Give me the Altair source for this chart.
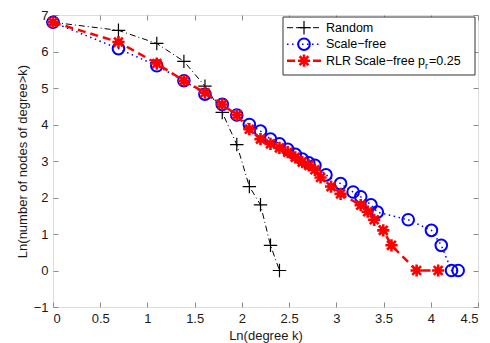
import altair as alt
import pandas as pd

# ---------------- data ----------------
rand_x = [0.0, 0.693, 1.099, 1.386, 1.609, 1.792, 1.946, 2.079, 2.197, 2.303, 2.398]
rand_y = [6.8, 6.58, 6.22, 5.73, 5.05, 4.33, 3.45, 2.30, 1.80, 0.69, 0.0]

sf_x = [0.0, 0.693, 1.099, 1.386, 1.609, 1.792, 1.946, 2.079, 2.197, 2.303, 2.398,
        2.485, 2.565, 2.639, 2.708, 2.773, 2.890, 3.045, 3.178, 3.258, 3.367, 3.434,
        3.761, 4.007, 4.111, 4.220, 4.290]
sf_y = [6.8, 6.08, 5.61, 5.20, 4.83, 4.55, 4.26, 4.00, 3.82, 3.60, 3.47,
        3.32, 3.18, 3.05, 2.95, 2.88, 2.62, 2.38, 2.15, 2.02, 1.80, 1.60,
        1.39, 1.10, 0.69, 0.0, 0.0]

rlr_x = [0.0, 0.693, 1.099, 1.386, 1.609, 1.792, 1.946, 2.079, 2.197, 2.303, 2.398,
         2.485, 2.565, 2.639, 2.708, 2.773, 2.833, 2.944, 3.045, 3.258, 3.332, 3.401,
         3.497, 3.584, 3.850, 4.078]
rlr_y = [6.8, 6.26, 5.67, 5.20, 4.87, 4.55, 4.26, 3.87, 3.60, 3.47, 3.36,
         3.24, 3.10, 2.97, 2.88, 2.76, 2.55, 2.30, 2.10, 1.79, 1.61, 1.39,
         1.10, 0.69, 0.0, 0.0]

x_ticks = [0, 0.5, 1, 1.5, 2, 2.5, 3, 3.5, 4, 4.5]
y_ticks = [-1, 0, 1, 2, 3, 4, 5, 6, 7]

legend_labels = ["Random", "Scale\u2212free", "RLR Scale\u2212free p"]

# ---------------- styling ----------------
W, H = 425, 292
FONT = "Liberation Sans"
AX = "#8c8c8c"
BLUE = "#0000ff"
RED = "#ff0000"
PLUS = "M-1,0L1,0M0,-1L0,1"
STAR = "M-1,0L1,0M0,-1L0,1M-0.72,-0.72L0.72,0.72M-0.72,0.72L0.72,-0.72"

xs = alt.Scale(domain=[0, 4.5], nice=False, zero=False)
ys = alt.Scale(domain=[-1, 7], nice=False, zero=False)

rand_df = pd.DataFrame({"x": rand_x, "y": rand_y})
sf_df = pd.DataFrame({"x": sf_x, "y": sf_y})
rlr_df = pd.DataFrame({"x": rlr_x, "y": rlr_y})
one = pd.DataFrame({"a": [0]})


def enc(chart, xaxis=None, yaxis=None):
    return chart.encode(
        x=alt.X("x:Q", scale=xs, axis=xaxis),
        y=alt.Y("y:Q", scale=ys, axis=yaxis),
    )


# axes: main labelled axes + inward ticks on all four sides
main_x = alt.Axis(orient="bottom", values=x_ticks, format="~g", ticks=False, domain=False,
                  grid=False, labelFont=FONT, labelFontSize=13, labelColor="#1a1a1a",
                  labelPadding=5, title="Ln(degree k)", titleFont=FONT, titleFontSize=13,
                  titleFontWeight="normal", titleColor="#1a1a1a", titlePadding=4)
main_y = alt.Axis(orient="left", values=y_ticks, format="~g", ticks=False, domain=False,
                  grid=False, labelFont=FONT, labelFontSize=13, labelColor="#1a1a1a",
                  labelPadding=5, title="Ln(number of nodes of degree>k)", titleFont=FONT,
                  titleFontSize=13, titleFontWeight="normal", titleColor="#1a1a1a",
                  titlePadding=4)

tick_common = dict(labels=False, domain=False, grid=False, tickSize=5, tickColor=AX,
                   title=None, tickWidth=1)
tick_bottom = alt.Axis(orient="top", offset=-H, values=x_ticks, **tick_common)
tick_top = alt.Axis(orient="bottom", offset=-H, values=x_ticks, **tick_common)
tick_left = alt.Axis(orient="right", offset=-W, values=y_ticks, **tick_common)
tick_right = alt.Axis(orient="left", offset=-W, values=y_ticks, **tick_common)

axes_main = enc(alt.Chart(rand_df).mark_point(opacity=0), main_x, main_y)
axes_t1 = enc(alt.Chart(rand_df).mark_point(opacity=0), tick_bottom, tick_left)
axes_t2 = enc(alt.Chart(rand_df).mark_point(opacity=0), tick_top, tick_right)

# data series
rand_line = enc(alt.Chart(rand_df).mark_line(color="black", strokeWidth=1,
                                             strokeDash=[6, 3, 1, 3]))
rand_pts = enc(alt.Chart(rand_df).mark_point(shape=PLUS, size=180, color="black",
                                             strokeWidth=1.2, filled=False, opacity=1))
sf_line = enc(alt.Chart(sf_df).mark_line(color=BLUE, strokeWidth=1.5, strokeDash=[1.5, 3.5]))
sf_pts = enc(alt.Chart(sf_df).mark_point(shape="circle", size=135, color=BLUE,
                                         strokeWidth=2, filled=False, opacity=1))
rlr_line = enc(alt.Chart(rlr_df).mark_line(color=RED, strokeWidth=2.5, strokeDash=[8, 5]))
rlr_pts = enc(alt.Chart(rlr_df).mark_point(shape=STAR, size=150, color=RED,
                                           strokeWidth=2.6, filled=False, opacity=1))

# legend (pixel positions inside the plot area)
LX0, LX1, LY0, LY1 = 230, 422, 2, 60
rows = [12.7, 29.2, 45.7]
LFS = 12.5
box = alt.Chart(one).mark_rect(fill="white", stroke="#333333", strokeWidth=1).encode(
    x=alt.value(LX0), x2=alt.value(LX1), y=alt.value(LY0), y2=alt.value(LY1))

leg = [box]
styles = [
    dict(color="black", strokeWidth=1, strokeDash=[6, 3, 1, 3]),
    dict(color=BLUE, strokeWidth=1.5, strokeDash=[1.5, 3.5]),
    dict(color=RED, strokeWidth=2.5, strokeDash=[8, 5]),
]
marks = [
    dict(shape=PLUS, size=180, color="black", strokeWidth=1.2, filled=False, opacity=1),
    dict(shape="circle", size=135, color=BLUE, strokeWidth=2, filled=False, opacity=1),
    dict(shape=STAR, size=150, color=RED, strokeWidth=2.6, filled=False, opacity=1),
]
for i, yy in enumerate(rows):
    leg.append(alt.Chart(one).mark_rule(**styles[i]).encode(
        x=alt.value(LX0 + 4), x2=alt.value(LX0 + 38), y=alt.value(yy)))
    leg.append(alt.Chart(one).mark_point(**marks[i]).encode(
        x=alt.value(LX0 + 21), y=alt.value(yy)))
    leg.append(alt.Chart(one).mark_text(align="left", baseline="middle", font=FONT,
                                         fontSize=LFS, color="black").encode(
        x=alt.value(LX0 + 43), y=alt.value(yy), text=alt.value(legend_labels[i])))
# subscript r and "=0.25"
leg.append(alt.Chart(one).mark_text(align="left", baseline="middle", font=FONT,
                                     fontSize=9, color="black").encode(
    x=alt.value(LX0 + 142), y=alt.value(rows[2] + 5), text=alt.value("r")))
leg.append(alt.Chart(one).mark_text(align="left", baseline="middle", font=FONT,
                                     fontSize=LFS, color="black").encode(
    x=alt.value(LX0 + 146), y=alt.value(rows[2]), text=alt.value("=0.25")))

chart = alt.layer(
    axes_main, axes_t1, axes_t2,
    rand_line, rand_pts, sf_line, sf_pts, rlr_line, rlr_pts,
    *leg,
).resolve_axis(x="independent", y="independent").properties(
    width=W, height=H,
    autosize=alt.AutoSizeParams(type="none"),
    padding={"left": 45, "top": 7, "right": 4, "bottom": 36},
).configure_view(stroke=AX, strokeWidth=1).configure(background="white")

chart.save("out.html", embed_options={"renderer": "svg", "actions": False})
